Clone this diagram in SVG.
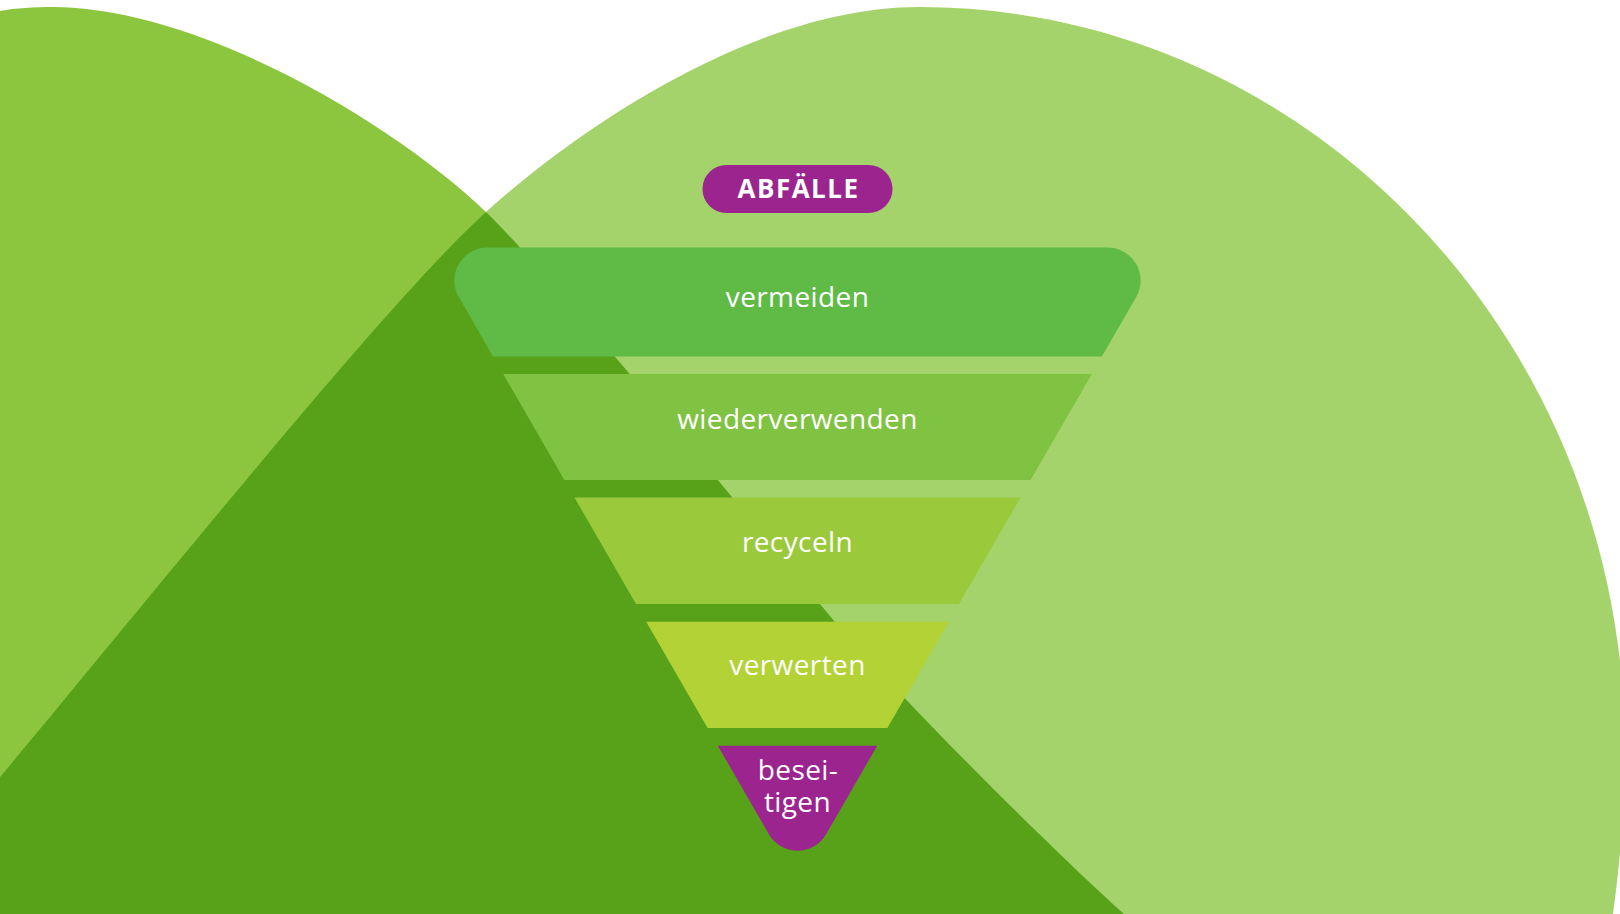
<svg xmlns="http://www.w3.org/2000/svg" width="1620" height="914" viewBox="0 0 1620 914">
  <defs>
    <style>
      .lbl { font-family: "Open Sans", "Liberation Sans", sans-serif; font-size: 28px; fill: #ffffff; text-anchor: middle; letter-spacing: 0.4px; }
      .title { font-family: "Open Sans", "Liberation Sans", sans-serif; font-size: 26px; font-weight: 700; fill: #ffffff; text-anchor: middle; letter-spacing: 1.5px; }
      .purple { fill: #9b248e; }
    </style>
    <path id="leftHill" d="M0,914 L0,11 C15,8 35,7 52,7 C202,7 399.6,128 486,212 C558,282 761,533 825,610 C889,687 1049,847 1124,914 Z"/>
    <path id="rightHill" d="M0,914 L0,777 C140,610 386,302 486,212 C567.4,138.3 749,7 919,7 C1308.9,7 1625,339.6 1625,750 C1625,806 1620,862 1613,914 Z"/>
    <clipPath id="clipLeft">
      <use href="#leftHill"/>
    </clipPath>
  </defs>

  <rect x="0" y="0" width="1620" height="914" fill="#ffffff"/>

  <g id="background">
    <use href="#leftHill" fill="#8cc63f"/>
    <use href="#rightHill" fill="#a3d36a"/>
    <use href="#rightHill" fill="#58a21a" clip-path="url(#clipLeft)"/>
  </g>

  <g id="abfaelle">
    <rect class="purple" x="702.5" y="165" width="190" height="48" rx="24" ry="24"/>
    <text class="title" x="798.5" y="198.3">ABFÄLLE</text>
  </g>

  <g id="vermeiden">
    <path fill="#5fba46" d="M493.1,356.5 L458.8,297 A33,33 0 0 1 487.4,247.5 L1107.6,247.5 A33,33 0 0 1 1136.2,297 L1101.9,356.5 Z"/>
    <text class="lbl" x="797.5" y="306.5">vermeiden</text>
  </g>

  <g id="wiederverwenden">
    <path fill="#80c242" d="M503.2,374 L1091.8,374 L1030.6,480 L564.4,480 Z"/>
    <text class="lbl" x="797.5" y="429">wiederverwenden</text>
  </g>

  <g id="recyceln">
    <path fill="#9aca3c" d="M574.5,497.5 L1020.5,497.5 L959,604 L636,604 Z"/>
    <text class="lbl" x="797.5" y="552">recyceln</text>
  </g>

  <g id="verwerten">
    <path fill="#b2d235" d="M646.2,621.7 L948.8,621.7 L887.4,728 L707.6,728 Z"/>
    <text class="lbl" x="797.5" y="675">verwerten</text>
  </g>

  <g id="beseitigen">
    <path class="purple" d="M717.8,745.7 L877.2,745.7 L826.1,834.2 A33,33 0 0 1 768.9,834.2 Z"/>
    <text class="lbl" x="798" y="780">besei-</text>
    <text class="lbl" x="797.5" y="812">tigen</text>
  </g>
</svg>
